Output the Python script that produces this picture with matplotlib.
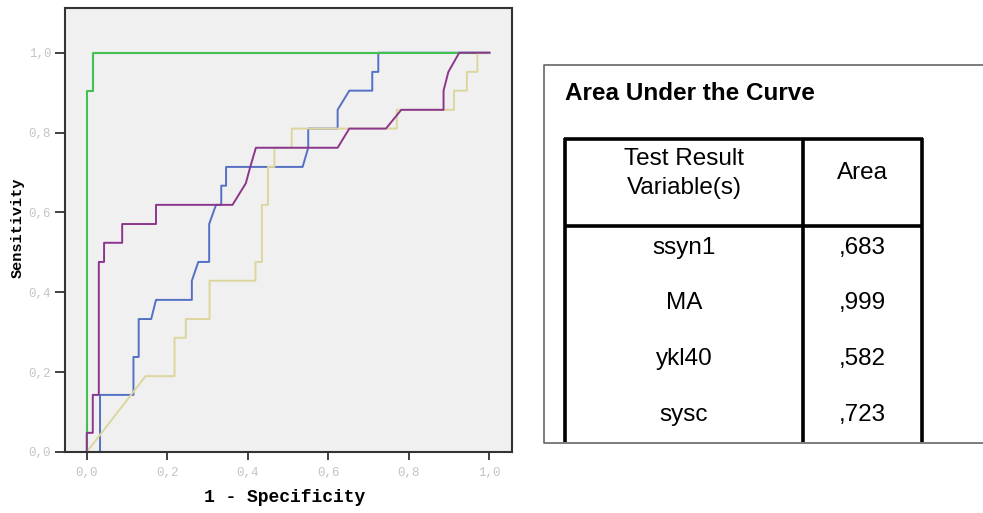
import matplotlib
matplotlib.use("Agg")
import matplotlib.pyplot as plt

# ----------------------------------------
# ROC curve data
# ----------------------------------------

ssyn1_x = [0, 0.033, 0.033, 0.116, 0.116, 0.129, 0.129, 0.160, 0.172, 0.261, 0.261,
           0.277, 0.304, 0.304, 0.321, 0.334, 0.334, 0.346, 0.346, 0.536, 0.550,
           0.550, 0.623, 0.623, 0.652, 0.709, 0.709, 0.724, 0.724, 1.0]
ssyn1_y = [0, 0, 0.143, 0.143, 0.238, 0.238, 0.333, 0.333, 0.381, 0.381, 0.429,
           0.476, 0.476, 0.571, 0.619, 0.619, 0.667, 0.667, 0.714, 0.714, 0.762,
           0.810, 0.810, 0.857, 0.905, 0.905, 0.952, 0.952, 1.0, 1.0]

ma_x = [0, 0, 0.015, 0.015, 1.0]
ma_y = [0, 0.905, 0.905, 1.0, 1.0]

ykl40_x = [0, 0.146, 0.218, 0.218, 0.246, 0.246, 0.305, 0.305, 0.419, 0.419,
           0.435, 0.435, 0.450, 0.450, 0.466, 0.466, 0.509, 0.509, 0.770, 0.770,
           0.912, 0.912, 0.944, 0.944, 0.970, 0.970, 1.0]
ykl40_y = [0, 0.190, 0.190, 0.286, 0.286, 0.333, 0.333, 0.429, 0.429, 0.476,
           0.476, 0.619, 0.619, 0.714, 0.714, 0.762, 0.762, 0.810, 0.810, 0.857,
           0.857, 0.905, 0.905, 0.952, 0.952, 1.0, 1.0]

sysc_x = [0, 0, 0.015, 0.015, 0.030, 0.030, 0.043, 0.043, 0.088, 0.088, 0.172,
          0.172, 0.362, 0.395, 0.406, 0.420, 0.623, 0.652, 0.743, 0.781, 0.886,
          0.886, 0.898, 0.925, 1.0]
sysc_y = [0, 0.048, 0.048, 0.143, 0.143, 0.476, 0.476, 0.524, 0.524, 0.571,
          0.571, 0.619, 0.619, 0.673, 0.714, 0.762, 0.762, 0.810, 0.810, 0.857,
          0.857, 0.905, 0.952, 1.0, 1.0]

tick_values = [0.0, 0.2, 0.4, 0.6, 0.8, 1.0]

auc_vars = ["ssyn1", "MA", "ykl40", "sysc"]
auc_areas = [0.683, 0.999, 0.582, 0.723]

# ----------------------------------------
# Figure
# ----------------------------------------

W, H = 983, 513
fig = plt.figure(figsize=(W / 100, H / 100), dpi=100)

ax = fig.add_axes([65 / W, 1 - 452 / H, 447 / W, 444 / H])
ax.set_facecolor("#f0f0f0")

ax.plot(ssyn1_x, ssyn1_y, color="#5470c4", lw=1.4)
ax.plot(ma_x, ma_y, color="#44c052", lw=1.5)
ax.plot(ykl40_x, ykl40_y, color="#dcd69e", lw=1.4)
ax.plot(sysc_x, sysc_y, color="#8c358c", lw=1.4)

ax.set_xlim(-0.054, 1.056)
ax.set_ylim(0, 1.112)

for s in ax.spines.values():
    s.set_color("#333333")
    s.set_linewidth(1.5)

labels = [f"{v:.1f}".replace(".", ",") for v in tick_values]
ax.set_xticks(tick_values)
ax.set_xticklabels(labels)
ax.set_yticks(tick_values)
ax.set_yticklabels(labels)
ax.tick_params(axis="both", direction="out", width=1.3, color="#333333",
               labelcolor="#c4c4c4", labelsize=9)
ax.tick_params(axis="x", length=6, pad=5)
ax.tick_params(axis="y", length=7, pad=3)
for t in ax.get_xticklabels() + ax.get_yticklabels():
    t.set_family("Liberation Mono")

# axis titles placed in figure pixels
fig.text(285 / W, 1 - 498 / H, "1 - Specificity", family="Liberation Mono",
         weight="bold", fontsize=13, ha="center", va="center")
fig.text(18 / W, 1 - 228 / H, "Sensitivity", family="Liberation Mono",
         weight="bold", fontsize=11, ha="center", va="center", rotation=90)

# ----------------------------------------
# AUC table (pixel coordinates)
# ----------------------------------------

tab = fig.add_axes([0, 0, 1, 1])
tab.set_xlim(0, W)
tab.set_ylim(H, 0)
tab.axis("off")
tab.patch.set_alpha(0)

# outer frame, open on the right
tab.plot([W, 544, 544, W], [65, 65, 443, 443], color="#666666", lw=1.2)

tab.text(565, 94, "Area Under the Curve", family="Liberation Sans",
         weight="bold", fontsize=17.5, va="center", ha="left")

thick = dict(color="black", lw=2.6, solid_capstyle="butt")
tab.plot([564, 923], [138.5, 138.5], **thick)
tab.plot([564, 923], [226, 226], **thick)
for xv in (565, 803, 922):
    tab.plot([xv, xv], [137.5, 441.5], **thick)

tab.text(684, 159, "Test Result", family="Liberation Sans", fontsize=17.5,
         ha="center", va="center")
tab.text(684, 188, "Variable(s)", family="Liberation Sans", fontsize=17.5,
         ha="center", va="center")
tab.text(862, 173, "Area", family="Liberation Sans", fontsize=17.5,
         ha="center", va="center")

row_y = [248, 303, 359, 414.5]
for name, area, yv in zip(auc_vars, auc_areas, row_y):
    tab.text(684, yv, name, family="Liberation Sans", fontsize=17.5,
             ha="center", va="center")
    tab.text(862, yv, f"{area:.3f}".replace("0.", ","), family="Liberation Sans",
             fontsize=17.5, ha="center", va="center")

fig.savefig("out.png", dpi=100)
